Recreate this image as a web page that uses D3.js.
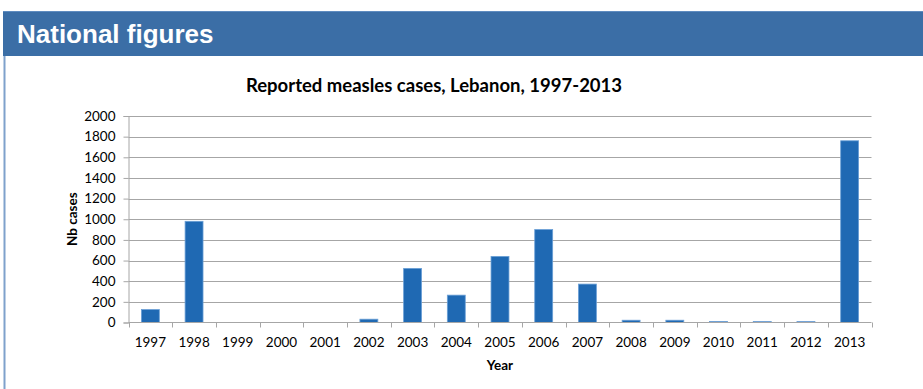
<!DOCTYPE html>
<html>
<head>
<meta charset="utf-8">
<script src="https://cdn.jsdelivr.net/npm/d3@7"></script>
<style>
  html, body { margin: 0; padding: 0; background: #ffffff; }
  svg { display: block; }
</style>
</head>
<body>
<svg id="chart" width="923" height="389"></svg>
<script>
// Reported measles cases in Lebanon by year
const years = ["1997","1998","1999","2000","2001","2002","2003","2004","2005","2006","2007","2008","2009","2010","2011","2012","2013"];
const cases = [125, 980, 0, 0, 0, 32, 524, 265, 640, 900, 372, 22, 22, 10, 9, 9, 1760];
const yTicks = [0, 200, 400, 600, 800, 1000, 1200, 1400, 1600, 1800, 2000];

const svg = d3.select("#chart");
const W = 923, H = 389;

// Section banner
svg.append("rect")
  .attr("x", 3).attr("y", 11).attr("width", W - 3).attr("height", 45)
  .attr("fill", "#3b6ea6");
svg.append("line")
  .attr("x1", 3).attr("x2", W).attr("y1", 11.5).attr("y2", 11.5)
  .attr("stroke", "#5f8cc0").attr("stroke-width", 1);
svg.append("text")
  .attr("x", 17).attr("y", 43)
  .attr("font-family", "'Liberation Sans', Arial, sans-serif")
  .attr("font-weight", "bold")
  .attr("font-size", 26)
  .attr("fill", "#ffffff")
  .text("National figures");

// Panel left border
svg.append("line")
  .attr("x1", 4.5).attr("x2", 4.5).attr("y1", 56).attr("y2", H)
  .attr("stroke", "#7fa1cc").attr("stroke-width", 2);

// Plot area
const m = { left: 128.5, right: 871.5, top: 116, bottom: 322.5 };

const x = d3.scaleBand()
  .domain(years)
  .range([m.left, m.right])
  .paddingInner(0.59)
  .paddingOuter(0.295);

const y = d3.scaleLinear()
  .domain([0, 2000])
  .range([m.bottom, m.top]);

const font = "Lato, 'Open Sans', sans-serif";

// Title
svg.append("text")
  .attr("x", 434).attr("y", 92)
  .attr("text-anchor", "middle")
  .attr("font-family", font)
  .attr("font-weight", "bold")
  .attr("font-size", 18.5)
  .attr("fill", "#000")
  .text("Reported measles cases, Lebanon, 1997-2013");

// Horizontal gridlines
svg.append("g")
  .selectAll("line")
  .data(yTicks.filter(d => d > 0))
  .join("line")
  .attr("x1", m.left).attr("x2", m.right)
  .attr("y1", d => Math.round(y(d)) + 0.5)
  .attr("y2", d => Math.round(y(d)) + 0.5)
  .attr("stroke", "#a6a6a6")
  .attr("stroke-width", 1);

// Y axis
const yAxis = svg.append("g")
  .attr("transform", `translate(${m.left},0)`)
  .call(d3.axisLeft(y).tickValues(yTicks).tickSize(5).tickPadding(8).tickFormat(d3.format("d")));
yAxis.select(".domain").attr("stroke", "#a6a6a6");
yAxis.selectAll(".tick line").attr("stroke", "#a6a6a6");
yAxis.selectAll(".tick text")
  .attr("font-family", font).attr("font-size", 13.5).attr("fill", "#000");

// Bars
svg.append("g")
  .selectAll("rect")
  .data(years.map((yr, i) => ({ yr, v: cases[i] })).filter(d => d.v > 0))
  .join("rect")
  .attr("x", d => x(d.yr))
  .attr("y", d => y(d.v))
  .attr("width", x.bandwidth())
  .attr("height", d => y(0) - y(d.v))
  .attr("fill", "#1f69b3")
  .attr("stroke", "#6a9fd6")
  .attr("stroke-width", 0.8);

// X axis with ticks at category boundaries
const xAxisG = svg.append("g")
  .attr("transform", `translate(0,${m.bottom})`);
xAxisG.append("line")
  .attr("x1", m.left).attr("x2", m.right)
  .attr("y1", 0).attr("y2", 0)
  .attr("stroke", "#a6a6a6");
const bounds = d3.range(years.length + 1).map(i => m.left + i * (m.right - m.left) / years.length);
xAxisG.selectAll("line.bound")
  .data(bounds)
  .join("line")
  .attr("class", "bound")
  .attr("x1", d => Math.round(d) + 0.5).attr("x2", d => Math.round(d) + 0.5)
  .attr("y1", 0).attr("y2", 5)
  .attr("stroke", "#a6a6a6");
xAxisG.selectAll("text")
  .data(years)
  .join("text")
  .attr("x", d => x(d) + x.bandwidth() / 2)
  .attr("y", 24)
  .attr("text-anchor", "middle")
  .attr("font-family", font)
  .attr("font-size", 13.5)
  .attr("fill", "#000")
  .text(d => d);

// Axis titles
svg.append("text")
  .attr("x", (m.left + m.right) / 2).attr("y", 370)
  .attr("text-anchor", "middle")
  .attr("font-family", font).attr("font-weight", "bold").attr("font-size", 13.5)
  .attr("fill", "#000")
  .text("Year");

svg.append("text")
  .attr("transform", `translate(77,${(m.top + m.bottom) / 2}) rotate(-90)`)
  .attr("text-anchor", "middle")
  .attr("font-family", font).attr("font-weight", "bold").attr("font-size", 13.5)
  .attr("fill", "#000")
  .text("Nb cases");
</script>
</body>
</html>
